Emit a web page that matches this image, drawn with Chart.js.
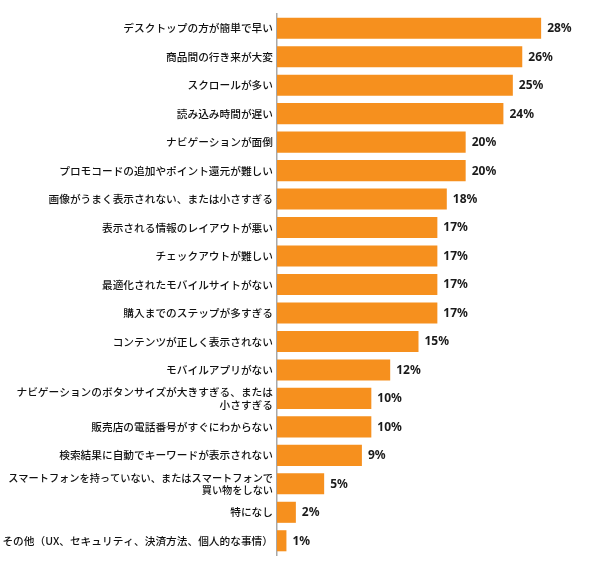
<!DOCTYPE html>
<html>
<head>
<meta charset="utf-8">
<script src="https://cdn.jsdelivr.net/npm/chart.js@4/dist/chart.umd.min.js"></script>
<style>
  html, body { margin: 0; padding: 0; background: #fff; }
  #wrap { width: 600px; height: 578px; position: relative; }
</style>
</head>
<body>
<div id="wrap"><canvas id="chart"></canvas></div>
<script>
const categories = [
  "デスクトップの方が簡単で早い",
  "商品間の行き来が大変",
  "スクロールが多い",
  "読み込み時間が遅い",
  "ナビゲーションが面倒",
  "プロモコードの追加やポイント還元が難しい",
  "画像がうまく表示されない、または小さすぎる",
  "表示される情報のレイアウトが悪い",
  "チェックアウトが難しい",
  "最適化されたモバイルサイトがない",
  "購入までのステップが多すぎる",
  "コンテンツが正しく表示されない",
  "モバイルアプリがない",
  ["ナビゲーションのボタンサイズが大きすぎる、または", "小さすぎる"],
  "販売店の電話番号がすぐにわからない",
  "検索結果に自動でキーワードが表示されない",
  ["スマートフォンを持っていない、またはスマートフォンで", "買い物をしない"],
  "特になし",
  "その他（UX、セキュリティ、決済方法、個人的な事情）"
];
const percentValues = [28, 26, 25, 24, 20, 20, 18, 17, 17, 17, 17, 15, 12, 10, 10, 9, 5, 2, 1];
const valueMax = 30;

// ラベル描画（バーの右側に%表示）
const valueLabels = {
  id: "valueLabels",
  afterDatasetsDraw(chart) {
    const ctx = chart.ctx;
    const meta = chart.getDatasetMeta(0);
    ctx.save();
    ctx.font = "bold 12px 'Noto Sans', sans-serif";
    ctx.fillStyle = "#1a1a1a";
    ctx.textAlign = "left";
    ctx.textBaseline = "middle";
    meta.data.forEach((bar, i) => {
      ctx.fillText(percentValues[i] + "%", bar.x + 6, bar.y + 0.5);
    });
    ctx.restore();
  }
};

new Chart(document.getElementById("chart"), {
  type: "bar",
  data: {
    labels: categories,
    datasets: [{
      data: percentValues,
      backgroundColor: "#F6901E",
      borderWidth: 0,
      categoryPercentage: 1,
      barPercentage: 0.74
    }]
  },
  options: {
    indexAxis: "y",
    responsive: true,
    maintainAspectRatio: false,
    animation: false,
    layout: { padding: { top: 14, bottom: 23, left: 0, right: 40 } },
    plugins: {
      legend: { display: false },
      tooltip: { enabled: false }
    },
    scales: {
      x: {
        display: false,
        min: 0,
        max: valueMax
      },
      y: {
        afterFit(scale) { scale.width = 277; },
        grid: { display: false, drawTicks: false },
        border: { display: true, color: "#A8A8A8", width: 1.5 },
        ticks: {
          padding: 4,
          color: "#111",
          autoSkip: false,
          // 長いラベルだけ少し小さく
          font: (c) => ({
            family: "'Noto Sans CJK JP', sans-serif",
            weight: 500,
            size: c.index === 16 ? 10.2 : 10.7,
            lineHeight: 1.2
          })
        }
      }
    }
  },
  plugins: [valueLabels]
});
</script>
</body>
</html>
